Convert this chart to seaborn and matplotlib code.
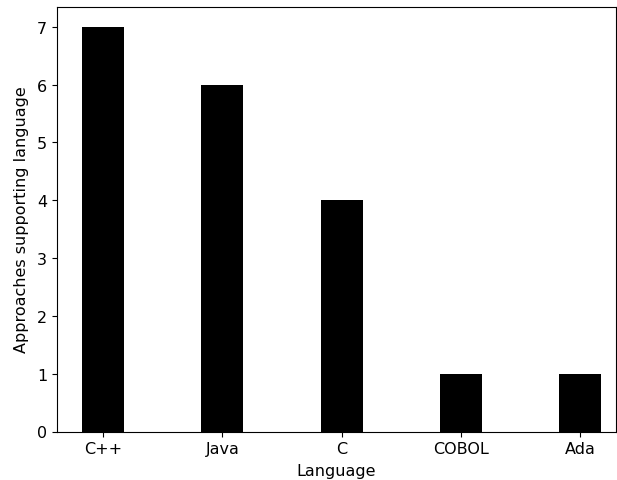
import matplotlib
matplotlib.use('Agg')
import matplotlib.pyplot as plt
import seaborn as sns
import pandas as pd

# Data
languages = ['C++', 'Java', 'C', 'COBOL', 'Ada']
approaches = [7, 6, 4, 1, 1]

df = pd.DataFrame({'Language': languages, 'Approaches': approaches})

fig = plt.figure(figsize=(6.17, 4.81), dpi=100)
ax = fig.add_axes([57 / 617, 48.5 / 481, 559 / 617, 425 / 481])

sns.barplot(data=df, x='Language', y='Approaches', color='black',
            width=0.35, saturation=1, ax=ax)

ax.set_xlim(-0.386, 4.3)
ax.set_ylim(0, 7.35)
ax.set_xlabel('Language', fontsize=11.5, labelpad=5)
ax.set_ylabel('Approaches supporting language', fontsize=11.5, labelpad=6)
ax.tick_params(labelsize=11.5)

fig.savefig('out.png', dpi=100)
